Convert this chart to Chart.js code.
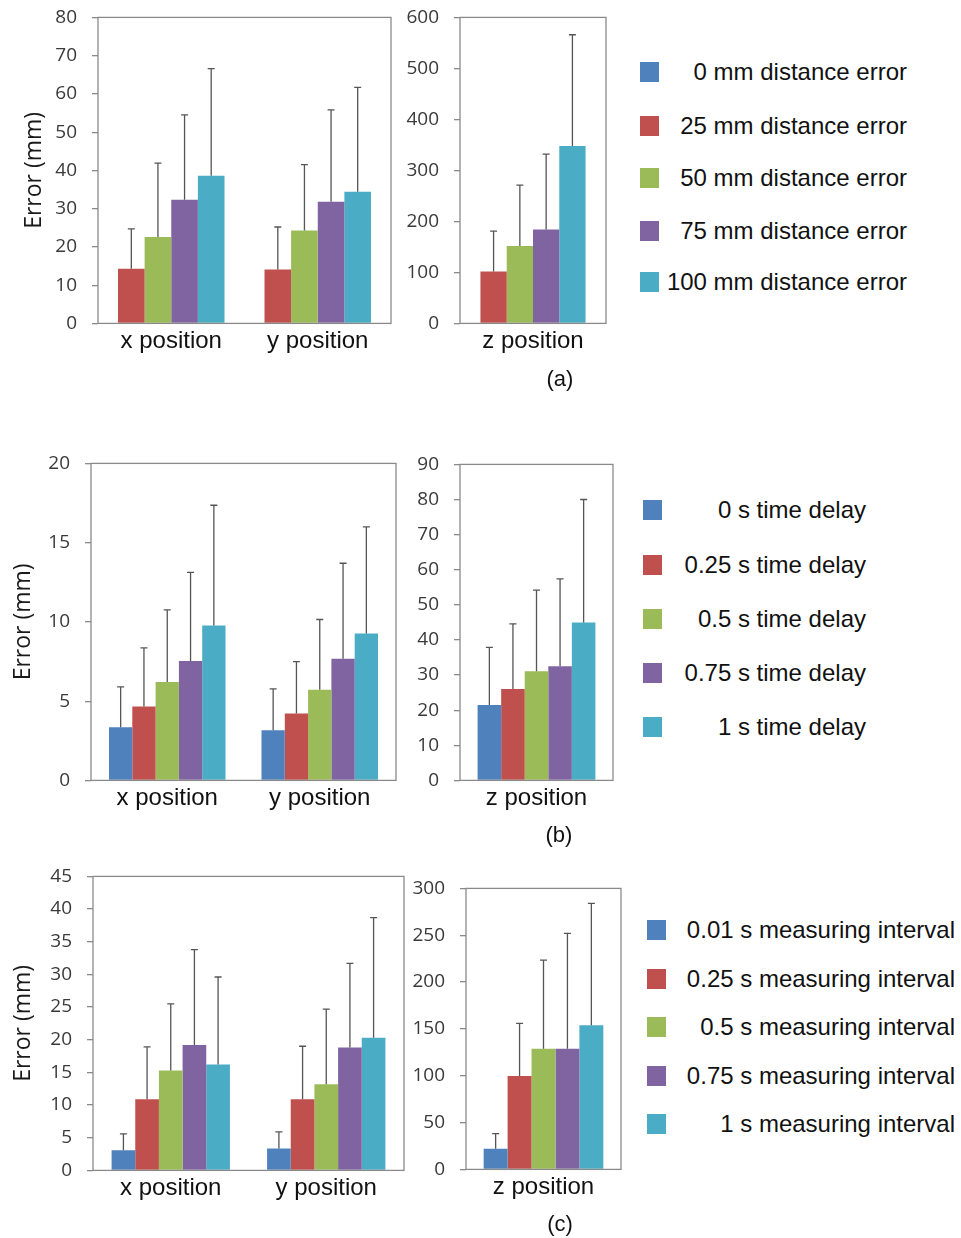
<!DOCTYPE html>
<html>
<head>
<meta charset="utf-8">
<script src="https://cdn.jsdelivr.net/npm/chart.js@4.4.1/dist/chart.umd.min.js"></script>
<style>
  body { margin: 0; background: #fff; width: 961px; height: 1238px; position: relative; overflow: hidden;
         font-family: 'Liberation Sans', Arial, sans-serif; color: #111; }
  canvas { position: absolute; }
  .sw { position: absolute; width: 19px; height: 20px; }
  .lt { position: absolute; font-size: 24px; line-height: 28px; white-space: nowrap; text-align: right; }
  .tag { position: absolute; font-size: 22px; line-height: 26px; width: 40px; text-align: center; }
</style>
</head>
<body>
<script>
// categories
const groupsXY = ['x position', 'y position'];
const groupsZ = ['z position'];
const colors = ['#4F81BD', '#C0504D', '#9BBB59', '#8064A2', '#4BACC6'];

// (a) distance error
const distNames = ['0 mm distance error', '25 mm distance error', '50 mm distance error', '75 mm distance error', '100 mm distance error'];
const distXY   = [[null, null], [14.3, 14.1], [22.6, 24.3], [32.3, 31.8], [38.6, 34.4]];
const distXYsd = [[null, null], [10.4, 11.1], [19.3, 17.2], [22.2, 24.0], [28.0, 27.3]];
const distZ    = [[null], [102], [152], [184], [348]];
const distZsd  = [[null], [79], [119], [148], [218]];

// (b) time delay
const delayNames = ['0 s time delay', '0.25 s time delay', '0.5 s time delay', '0.75 s time delay', '1 s time delay'];
const delayXY   = [[3.35, 3.17], [4.67, 4.22], [6.21, 5.72], [7.53, 7.68], [9.78, 9.27]];
const delayXYsd = [[2.55, 2.61], [3.69, 3.28], [4.55, 4.43], [5.59, 6.02], [7.58, 6.72]];
const delayZ    = [[21.5], [26], [31.1], [32.5], [45]];
const delayZsd  = [[16.4], [18.6], [23.1], [24.9], [35]];

// (c) measuring interval
const intNames = ['0.01 s measuring interval', '0.25 s measuring interval', '0.5 s measuring interval', '0.75 s measuring interval', '1 s measuring interval'];
const intXY   = [[3.1, 3.36], [10.9, 10.9], [15.3, 13.2], [19.2, 18.8], [16.2, 20.3]];
const intXYsd = [[2.5, 2.54], [8.0, 8.1], [10.2, 11.5], [14.6, 12.9], [13.4, 18.4]];
const intZ    = [[22], [99.6], [128.7], [128.7], [154]];
const intZsd  = [[16.3], [56.4], [94.7], [123.3], [130]];

// y axis ranges [max, step]
const aXYaxis = [80, 10], aZaxis = [600, 100];
const bXYaxis = [20, 5],  bZaxis = [90, 10];
const cXYaxis = [45, 5],  cZaxis = [300, 50];

const frame = {
  id: 'frame',
  afterDatasetsDraw(chart) {
    const {ctx, chartArea: a} = chart;
    ctx.save();
    ctx.strokeStyle = '#8a8a8a';
    ctx.lineWidth = 1.3;
    ctx.strokeRect(a.left, a.top, a.right - a.left, a.bottom - a.top);
    ctx.restore();
  }
};

const errorBars = {
  id: 'errorBars',
  afterDatasetsDraw(chart) {
    const ctx = chart.ctx, ys = chart.scales.y;
    chart.data.datasets.forEach((ds, i) => {
      chart.getDatasetMeta(i).data.forEach((bar, j) => {
        const v = ds.data[j], e = ds.errors[j];
        if (v == null || e == null) return;
        const top = ys.getPixelForValue(v + e);
        ctx.save();
        ctx.strokeStyle = '#555';
        ctx.lineWidth = 1.3;
        ctx.beginPath();
        ctx.moveTo(bar.x, bar.y);
        ctx.lineTo(bar.x, top);
        ctx.moveTo(bar.x - 3.5, top);
        ctx.lineTo(bar.x + 3.5, top);
        ctx.stroke();
        ctx.restore();
      });
    });
  }
};

function panel(box, yW, groups, vals, sds, axis, catPct, titlePad) {
  const padT = 15, padR = 5, xH = 45;
  const cv = document.createElement('canvas');
  cv.width = box.R - box.L + yW + padR;
  cv.height = box.B - box.T + padT + xH;
  document.body.appendChild(cv);

  const chart = new Chart(cv.getContext('2d'), {
    type: 'bar',
    data: {
      labels: groups,
      datasets: vals.map((d, i) => ({
        label: i,
        data: d,
        errors: sds[i],
        backgroundColor: colors[i],
        borderWidth: 0
      }))
    },
    options: {
      responsive: false,
      maintainAspectRatio: false,
      animation: false,
      events: [],
      skipNull: true,
      categoryPercentage: catPct,
      barPercentage: 1,
      layout: { padding: { top: padT, right: padR, left: 0, bottom: 0 } },
      plugins: { legend: { display: false }, tooltip: { enabled: false } },
      scales: {
        x: {
          grid: { display: false, drawTicks: false },
          border: { display: false },
          ticks: { padding: 4, color: '#111', font: { family: 'Liberation Sans', size: 24 } },
          afterFit: s => { s.height = xH; }
        },
        y: {
          min: 0,
          max: axis[0],
          ticks: { stepSize: axis[1], padding: 15, color: '#3a3a3a', font: { family: 'Open Sans', size: 19 } },
          grid: { drawOnChartArea: false, drawTicks: true, tickLength: 6, color: '#8a8a8a', lineWidth: 1.3 },
          border: { display: false },
          title: {
            display: titlePad != null,
            text: 'Error (mm)',
            color: '#1a1a1a',
            font: { family: 'Open Sans', size: 23 },
            padding: { top: titlePad || 0, bottom: 0 }
          },
          afterFit: s => { s.width = yW; }
        }
      }
    },
    plugins: [frame, errorBars]
  });

  // size the canvas so the plot area lands exactly on the wanted box
  let a = chart.chartArea;
  const w = a.left + (box.R - box.L) + (chart.width - a.right);
  const h = a.top + (box.B - box.T) + (chart.height - a.bottom);
  chart.resize(w, h);
  a = chart.chartArea;
  cv.style.left = (box.L - a.left) + 'px';
  cv.style.top = (box.T - a.top) + 'px';
  return chart;
}

function legend(names, x, ys, right) {
  names.forEach((n, i) => {
    const sw = document.createElement('div');
    sw.className = 'sw';
    sw.style.left = x + 'px';
    sw.style.top = (ys[i] - 10) + 'px';
    sw.style.background = colors[i];
    document.body.appendChild(sw);
    const t = document.createElement('div');
    t.className = 'lt';
    t.textContent = n;
    t.style.right = (961 - right) + 'px';
    t.style.top = (ys[i] - 14) + 'px';
    document.body.appendChild(t);
  });
}

function tag(text, cx, cy) {
  const t = document.createElement('div');
  t.className = 'tag';
  t.textContent = text;
  t.style.left = (cx - 20) + 'px';
  t.style.top = (cy - 13) + 'px';
  document.body.appendChild(t);
}

// (a)
panel({L: 98, R: 391, T: 17, B: 323}, 98, groupsXY, distXY, distXYsd, aXYaxis, 0.727, 21);
panel({L: 460, R: 606, T: 17, B: 323}, 60, groupsZ, distZ, distZsd, aZaxis, 0.72, null);
legend(distNames, 640, [72, 126, 178, 231, 282], 907);
tag('(a)', 560, 379);

// (b)
panel({L: 91, R: 396, T: 463, B: 780}, 91, groupsXY, delayXY, delayXYsd, bXYaxis, 0.764, 10);
panel({L: 460, R: 613, T: 464, B: 780}, 60, groupsZ, delayZ, delayZsd, bZaxis, 0.77, null);
legend(delayNames, 643, [510, 565, 619, 673, 727], 866);
tag('(b)', 559, 835);

// (c)
panel({L: 93, R: 404, T: 876, B: 1170}, 93, groupsXY, intXY, intXYsd, cXYaxis, 0.761, 10);
panel({L: 466, R: 621, T: 888, B: 1169}, 60, groupsZ, intZ, intZsd, cZaxis, 0.772, null);
legend(intNames, 647, [930, 979, 1027, 1076, 1124], 955);
tag('(c)', 560, 1224);
</script>
</body>
</html>
